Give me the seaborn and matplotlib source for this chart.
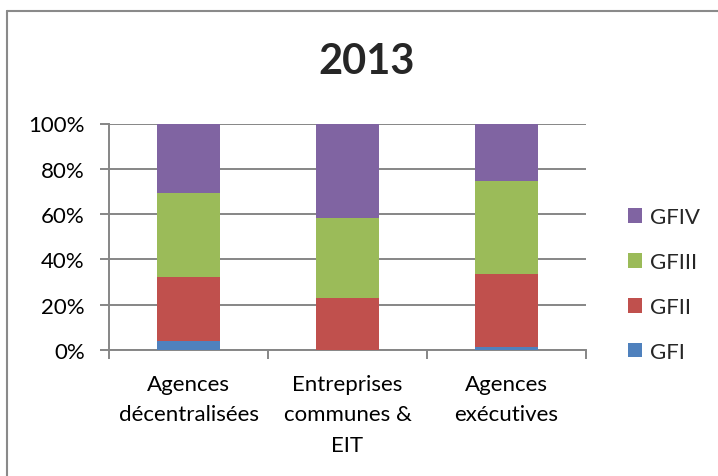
import matplotlib
matplotlib.use("Agg")
import matplotlib.pyplot as plt
from matplotlib.lines import Line2D
from matplotlib.patches import Patch
import seaborn as sns
import pandas as pd
import numpy as np

categories = ["Agences\ndécentralisées", "Entreprises\ncommunes &\nEIT", "Agences\nexécutives"]
series = ["GFI", "GFII", "GFIII", "GFIV"]
gfi = [4.0, 0.0, 1.2]
gfii = [28.2, 23.0, 32.2]
gfiii = [37.1, 35.2, 41.4]
gfiv = [30.7, 41.8, 25.2]
colors = ["#4F81BD", "#C0504D", "#9BBB59", "#8064A2"]
yticks = [0, 20, 40, 60, 80, 100]
ytick_labels = ["0%", "20%", "40%", "60%", "80%", "100%"]
title = "2013"

sns.set_style("white")
plt.rcParams["font.family"] = ["Lato", "DejaVu Sans"]

W, H = 718, 477
fig = plt.figure(figsize=(W / 100, H / 100), dpi=100)
ax = fig.add_axes([109 / W, 126 / H, (586 - 109) / W, 226.5 / H])

vals = np.array([gfi, gfii, gfiii, gfiv])
cum = np.cumsum(vals, axis=0)
grid_c = "#868686"

for i in range(len(series) - 1, -1, -1):
    df = pd.DataFrame({"cat": categories, "val": cum[i]})
    sns.barplot(data=df, x="cat", y="val", color=colors[i], width=0.4,
                saturation=1, ax=ax, zorder=3, edgecolor="none", linewidth=0)

ax.set_xlim(-0.5, 2.5)
ax.set_ylim(0, 100)
ax.set_yticks(yticks)
ax.set_yticklabels(ytick_labels, fontsize=16, color="black")
ax.set_xlabel("")
ax.set_ylabel("")
ax.yaxis.grid(True, color=grid_c, linewidth=1.4, zorder=0)
ax.set_axisbelow(True)
for s in ["top", "right"]:
    ax.spines[s].set_visible(False)
for s in ["left", "bottom"]:
    ax.spines[s].set_color(grid_c)
    ax.spines[s].set_linewidth(1.4)
ax.tick_params(axis="y", left=True, length=6.5, width=1.4, color=grid_c, pad=11)
ax.set_xticks(range(len(categories)))
ax.set_xticklabels(categories, fontsize=16, color="black", linespacing=1.68)
ax.tick_params(axis="x", which="major", bottom=False, length=0, pad=17)
ax.set_xticks([-0.5, 0.5, 1.5, 2.5], minor=True)
ax.tick_params(axis="x", which="minor", bottom=True, length=6.5, width=1.4, color=grid_c)

fig.text(367 / W, 1 - 62 / H, title, fontsize=30, fontweight="bold",
         ha="center", va="center")

handles = [Patch(facecolor=colors[i], edgecolor="none", label=series[i]) for i in range(3, -1, -1)]
fig.legend(handles=handles, loc="center left", bbox_to_anchor=(628 / W, 1 - 285.5 / H),
           frameon=False, fontsize=16, handlelength=0.65, handleheight=0.65,
           handletextpad=0.35, labelspacing=1.12, borderpad=0, borderaxespad=0)

bc = "#8a8a8a"
fig.add_artist(Line2D([7 / W, 1], [1 - 12 / H, 1 - 12 / H], transform=fig.transFigure, color=bc, lw=1.5))
fig.add_artist(Line2D([7 / W, 7 / W], [0, 1 - 12 / H], transform=fig.transFigure, color=bc, lw=1.5))

fig.savefig("out.png", dpi=100, facecolor="white")
